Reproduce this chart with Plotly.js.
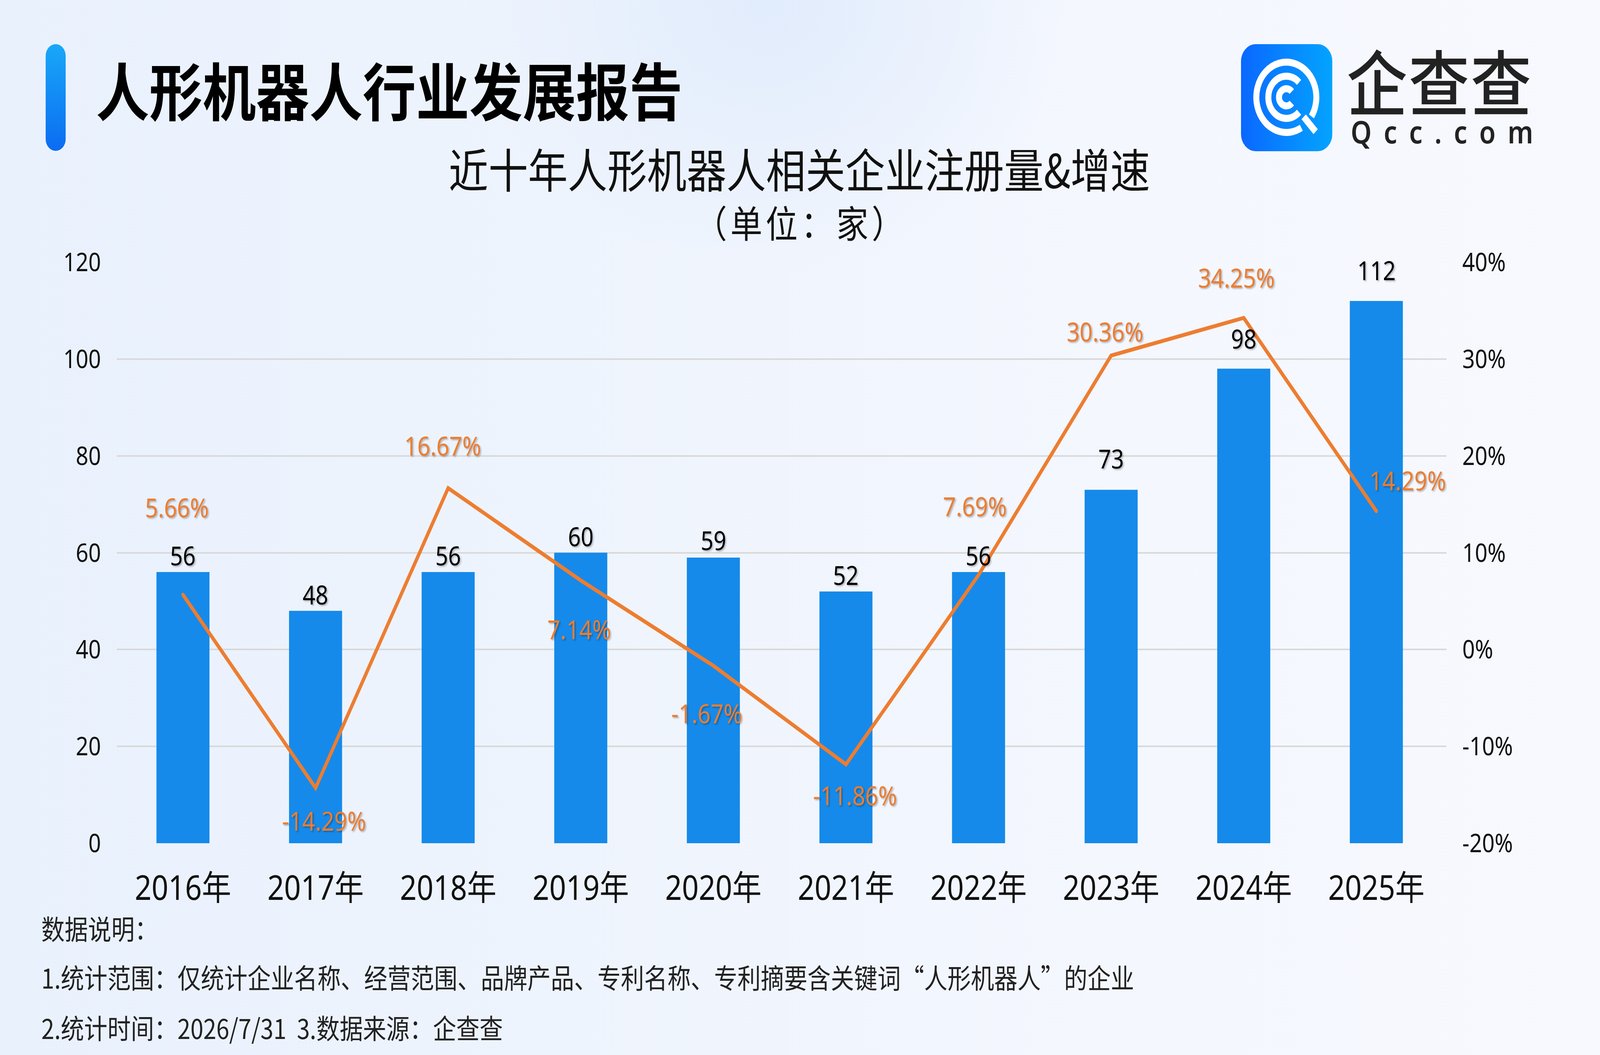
<!DOCTYPE html>
<html>
<head>
<meta charset="utf-8">
<script src="https://cdn.plot.ly/plotly-3.0.1.min.js"></script>
<style>
  html, body { margin: 0; padding: 0; overflow: hidden; background: #F0F5FD; }
  #stage {
    width: 4800px; height: 2700px; position: absolute; left: 0; top: 0; overflow: hidden;
    transform-origin: 0 0;
    background:
      radial-gradient(ellipse 900px 700px at 2300px 0px, rgba(222,234,252,0.85), rgba(222,234,252,0) 100%),
      linear-gradient(90deg, #E9F1FD 0%, #EEF4FD 35%, #F4F7FE 70%, #F7F9FE 100%);
    font-family: "Noto Sans", "Noto Sans CJK SC", sans-serif;
  }
  #chart { position: absolute; left: 0; top: 0; width: 4800px; height: 2700px; }
  .abs { position: absolute; white-space: pre; line-height: 1; }
  #bar { left: 137px; top: 113px; width: 60px; height: 273px; border-radius: 30px;
         background: linear-gradient(180deg, #19A8F8 0%, #0B6CF2 100%); }
  #mainTitle { left: 288px; top: 146px; font-family: "Noto Sans CJK SC"; font-weight: 700; font-size: 160px; color: #000; }
  #titles { left: 0; width: 4800px; text-align: center; top: 362px; font-family: "Noto Sans CJK SC"; color: #111; line-height: 134px; }
  #titles .t1 { font-size: 119px; margin-left: -4px; }
  #titles .t2 { font-size: 96px; letter-spacing: 10px; margin-left: 6px; position: relative; top: -41px; }
  .foot { left: 124px; font-family: "Noto Sans CJK SC"; font-size: 70px; color: #222; }
  #logoIcon { left: 3723px; top: 113px; width: 274px; height: 274px; }
  #logoText { left: 4040px; top: 112px; color: #222; line-height: 1; }
  #logoText .cn { font-family: "Noto Sans CJK SC"; font-weight: 500; font-size: 182px; letter-spacing: 4px; line-height: 182px; }
  #logoText .en { font-family: "Noto Sans"; font-weight: 600; font-size: 80px; letter-spacing: 36px; margin-left: 12px; line-height: 80px; position: relative; top: 2px; }
  .scatterlayer .js-line { stroke-linecap: round; }
</style>
</head>
<body>
<div id="stage">
<div id="chart"></div>
<div id="bar" class="abs"></div>
<div id="mainTitle" class="abs">人形机器人行业发展报告</div>
<div id="titles" class="abs"><span class="t1">近十年人形机器人相关企业注册量&amp;增速</span><br><span class="t2">（单位：家）</span></div>
<svg id="logoIcon" class="abs" viewBox="0 0 274 274"></svg>
<div id="logoText" class="abs"><span class="cn">企查查</span><br><span class="en">Qcc.com</span></div>
<div class="abs foot" style="top:2340px">数据说明：</div>
<div class="abs foot" style="top:2465px">1.统计范围：仅统计企业名称、经营范围、品牌产品、专利名称、专利摘要含关键词“人形机器人”的企业</div>
<div class="abs foot" style="top:2594px">2.统计时间：2026/7/31  3.数据来源：企查查</div>
</div>
<script>
// ---- data ----
const years = ['2016年','2017年','2018年','2019年','2020年','2021年','2022年','2023年','2024年','2025年'];
const registrations = [56, 48, 56, 60, 59, 52, 56, 73, 98, 112];
const growthRates = [5.66, -14.29, 16.67, 7.14, -1.67, -11.86, 7.69, 30.36, 34.25, 14.29];
const leftTickVals = [0, 20, 40, 60, 80, 100, 120];
const rightTickVals = [-20, -10, 0, 10, 20, 30, 40];
const rightTickText = ['-20%', '-10%', '0%', '10%', '20%', '30%', '40%'];

// ---- label placement (style, pixels) ----
const growthLabelShift = [[-18,-225],[25,83],[-16,-110],[-5,124],[-20,121],[27,78],[-11,-177],[-18,-62],[-22,-104],[94,-80]];
const barLabelGap = [17, 16, 17, 17, 19, 17, 17, 54, 52, 53];

const ORANGE = '#ED7D31';
const BLUE = '#158AEA';
const SHADOW = '3px 3px 4px rgba(0,0,0,0.28)';

// fit the 4800x2700 design into the actual window
(function () {
  const sx = window.innerWidth / 4800, sy = window.innerHeight / 2700;
  document.getElementById('stage').style.transform = 'scale(' + sx + ',' + sy + ')';
})();

const bars = {
  type: 'bar', x: years, y: registrations, width: 0.4,
  marker: { color: BLUE }, hoverinfo: 'skip', yaxis: 'y'
};
const line = {
  type: 'scatter', mode: 'lines', x: years, y: growthRates, yaxis: 'y2',
  line: { color: ORANGE, width: 10 }, hoverinfo: 'skip'
};

const annotations = [];
years.forEach((yr, i) => {
  annotations.push({
    x: yr, y: registrations[i], xref: 'x', yref: 'y',
    text: String(registrations[i]), showarrow: false,
    xanchor: 'center', yanchor: 'middle', yshift: barLabelGap[i] + 26,
    font: { family: 'Noto Sans', size: 67, color: '#000', shadow: SHADOW }
  });
  annotations.push({
    x: yr, y: growthRates[i], xref: 'x', yref: 'y2',
    text: growthRates[i].toFixed(2) + '%', showarrow: false,
    xanchor: 'center', yanchor: 'middle',
    xshift: growthLabelShift[i][0], yshift: -growthLabelShift[i][1],
    font: { family: 'Noto Sans', size: 68, color: ORANGE, shadow: SHADOW }
  });
});

const layout = {
  width: 4800, height: 2700,
  paper_bgcolor: 'rgba(0,0,0,0)', plot_bgcolor: 'rgba(0,0,0,0)',
  margin: { l: 350, r: 460, t: 671, b: 542, pad: 0 },
  showlegend: false,
  xaxis: {
    type: 'category', showgrid: false, showline: false, zeroline: false, ticks: '',
    tickfont: { family: 'Noto Sans, Noto Sans CJK SC', size: 88, color: '#111' },
    ticklabelstandoff: 56
  },
  yaxis: {
    range: [0, 120], tickvals: leftTickVals, showline: false, zeroline: false, ticks: '',
    gridcolor: '#D9D9D9', gridwidth: 4,
    tickfont: { family: 'Noto Sans', size: 66, color: '#111' },
    ticklabelstandoff: 46
  },
  yaxis2: {
    overlaying: 'y', side: 'right', range: [-20, 40], tickvals: rightTickVals, ticktext: rightTickText,
    showgrid: false, showline: false, zeroline: false, ticks: '',
    tickfont: { family: 'Noto Sans', size: 66, color: '#111' },
    ticklabelstandoff: 46
  },
  annotations: annotations
};

Plotly.newPlot('chart', [bars, line], layout, { staticPlot: true, displayModeBar: false });

// ---- logo icon ----
(function () {
  const svg = document.getElementById('logoIcon');
  const cx = 136, cy = 136;
  function arc(r, a0, a1) {
    const rad = d => d * Math.PI / 180;
    const x0 = cx + r * Math.cos(rad(a0)), y0 = cy + r * Math.sin(rad(a0));
    const x1 = cx + r * Math.cos(rad(a1)), y1 = cy + r * Math.sin(rad(a1));
    const large = ((a1 - a0) % 360 + 360) % 360 > 180 ? 1 : 0;
    return `M${x0.toFixed(2)},${y0.toFixed(2)} A${r},${r} 0 ${large} 1 ${x1.toFixed(2)},${y1.toFixed(2)}`;
  }
  svg.innerHTML = `
    <defs><linearGradient id="lg" x1="0" y1="0" x2="1" y2="0">
      <stop offset="0" stop-color="#0A68FF"/><stop offset="1" stop-color="#03A4FF"/></linearGradient></defs>
    <rect x="0" y="0" width="274" height="274" rx="44" ry="44" fill="url(#lg)"/>
    <g fill="none" stroke="#fff" stroke-width="18">
      <path d="${arc(90, 60, 393)}"/>
      <path d="${arc(54, 45, 315)}"/>
      <path d="${arc(22, 42, 318)}"/>
      <path d="M188,186 L224,224"/>
    </g>`;
})();
</script>
</body>
</html>
